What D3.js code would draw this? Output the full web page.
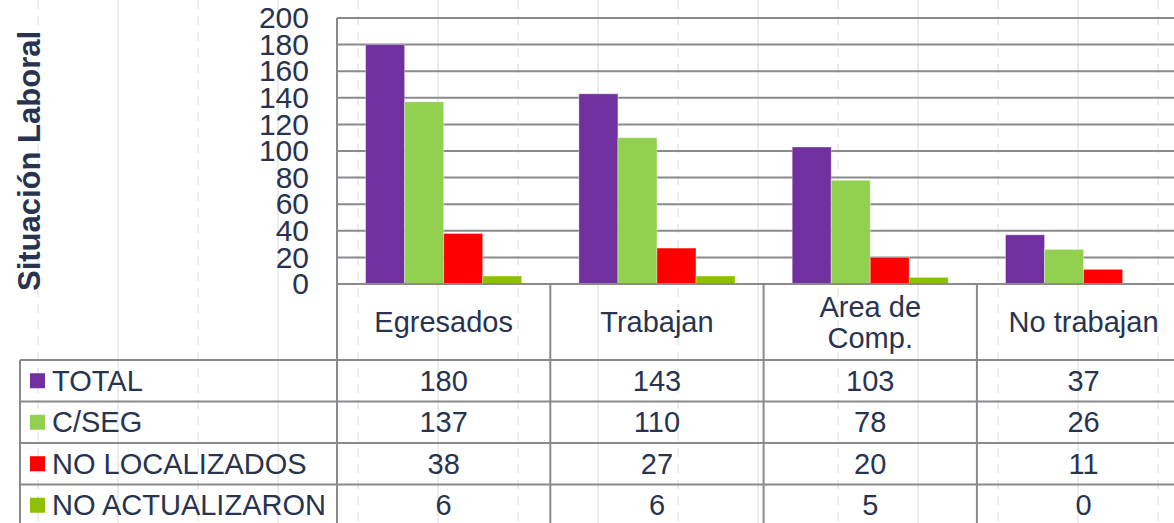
<!DOCTYPE html>
<html>
<head>
<meta charset="utf-8">
<script src="https://cdn.jsdelivr.net/npm/d3@7"></script>
<style>
  body { margin: 0; background: #fff; overflow: hidden; }
  text { font-family: "Liberation Sans", Arial, sans-serif; fill: #283350; }
</style>
</head>
<body>
<script>
// Data
var categories = ["Egresados", "Trabajan", "Area de Comp.", "No trabajan"];
var categoryLines = [["Egresados"], ["Trabajan"], ["Area de", "Comp."], ["No trabajan"]];
var seriesNames = ["TOTAL", "C/SEG", "NO LOCALIZADOS", "NO ACTUALIZARON"];
var total = [180, 143, 103, 37];
var cSeg = [137, 110, 78, 26];
var noLocalizados = [38, 27, 20, 11];
var noActualizaron = [6, 6, 5, 0];
var yTicks = [0, 20, 40, 60, 80, 100, 120, 140, 160, 180, 200];
var colors = ["#7030A0", "#92D050", "#FF0000", "#8DC000"];

var seriesValues = [total, cSeg, noLocalizados, noActualizaron];

var W = 1174, H = 523;
var plotLeft = 337, bandW = 213.3;
var plotTop = 18, zeroY = 284;
var rowLines = [360, 401.5, 443, 484.5, 526];
var gridColor = "#8a8a8e";
var fontSize = "29px";

var svg = d3.select("body").append("svg")
  .attr("width", W)
  .attr("height", H);

// faint background guides
for (var k = 0; k < 15; k++) {
  svg.append("line")
    .attr("x1", 38 + k * 80).attr("x2", 38 + k * 80)
    .attr("y1", 0).attr("y2", H)
    .attr("stroke", "#ededed")
    .attr("stroke-width", 2)
    .attr("stroke-dasharray", k % 2 === 0 ? "9,7" : null);
}

// scales
var x = d3.scaleBand()
  .domain(categories)
  .range([plotLeft, plotLeft + bandW * categories.length]);

var xs = d3.scaleBand()
  .domain(seriesNames)
  .range([28.6, bandW - 28.6]);

var y = d3.scaleLinear()
  .domain([0, 200])
  .range([zeroY, plotTop]);

// gridlines
svg.append("g")
  .selectAll("line")
  .data(yTicks.slice(1))
  .join("line")
  .attr("x1", plotLeft).attr("x2", W)
  .attr("y1", d => y(d)).attr("y2", d => y(d))
  .attr("stroke", gridColor)
  .attr("stroke-width", 2);

// bars
seriesNames.forEach(function (s, si) {
  svg.append("g")
    .selectAll("rect")
    .data(categories)
    .join("rect")
    .attr("x", (c, i) => x(c) + xs(s))
    .attr("y", (c, i) => y(seriesValues[si][i]))
    .attr("width", xs.bandwidth())
    .attr("height", (c, i) => zeroY - y(seriesValues[si][i]))
    .attr("fill", colors[si])
    .attr("stroke", "rgba(255,255,255,0.35)")
    .attr("stroke-width", 1);
});

// y axis labels
var yAxis = svg.append("g")
  .attr("transform", "translate(" + plotLeft + ",0)")
  .call(d3.axisLeft(y).tickValues(yTicks).tickSize(0).tickPadding(28));
yAxis.select(".domain").remove();
yAxis.selectAll("text")
  .style("font-size", "30px")
  .style("font-family", "'Liberation Sans', Arial, sans-serif")
  .attr("fill", "#283350");

// y title
svg.append("text")
  .attr("transform", "translate(40,161) rotate(-90)")
  .attr("text-anchor", "middle")
  .style("font-size", "31px")
  .style("font-weight", "bold")
  .text("Situación Laboral");

// table lines
var g = svg.append("g").attr("stroke", gridColor).attr("stroke-width", 2);
g.append("line").attr("x1", plotLeft).attr("x2", W).attr("y1", zeroY).attr("y2", zeroY);
g.append("line").attr("x1", plotLeft).attr("x2", plotLeft).attr("y1", plotTop).attr("y2", H);
rowLines.forEach(function (ry) {
  g.append("line").attr("x1", 20).attr("x2", W).attr("y1", ry).attr("y2", ry);
});
g.append("line").attr("x1", 20).attr("x2", 20).attr("y1", rowLines[0]).attr("y2", H);
categories.forEach(function (c) {
  g.append("line")
    .attr("x1", x(c) + bandW).attr("x2", x(c) + bandW)
    .attr("y1", zeroY).attr("y2", H);
});

// category headers
categories.forEach(function (c, i) {
  var lines = categoryLines[i];
  var cy = (zeroY + rowLines[0]) / 2;
  lines.forEach(function (t, li) {
    svg.append("text")
      .attr("x", x(c) + bandW / 2)
      .attr("y", cy + (li - (lines.length - 1) / 2) * 31)
      .attr("dy", "0.35em")
      .attr("text-anchor", "middle")
      .style("font-size", fontSize)
      .text(t);
  });
});

// data rows
seriesNames.forEach(function (s, si) {
  var cy = (rowLines[si] + rowLines[si + 1]) / 2;
  svg.append("rect")
    .attr("x", 30).attr("y", cy - 7.5)
    .attr("width", 15).attr("height", 15)
    .attr("fill", colors[si]);
  svg.append("text")
    .attr("x", 52).attr("y", cy)
    .attr("dy", "0.35em")
    .style("font-size", fontSize)
    .text(s);
  categories.forEach(function (c, i) {
    svg.append("text")
      .attr("x", x(c) + bandW / 2)
      .attr("y", cy)
      .attr("dy", "0.35em")
      .attr("text-anchor", "middle")
      .style("font-size", fontSize)
      .text(seriesValues[si][i]);
  });
});
</script>
</body>
</html>
